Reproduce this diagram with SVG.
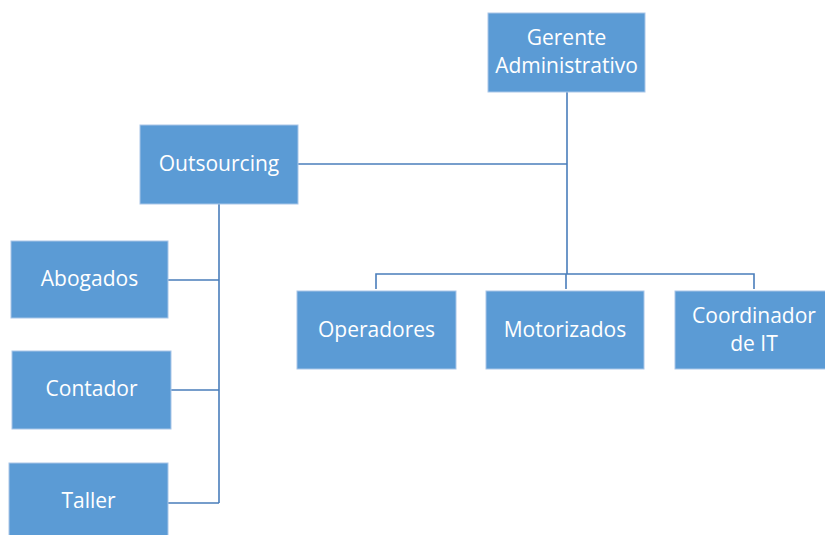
<svg xmlns="http://www.w3.org/2000/svg" width="825" height="535" viewBox="0 0 825 535">
<style>
.box{fill:#5b9bd5;stroke:#a9c6e8;stroke-width:1}
.lbl{fill:#ffffff;font-family:"Open Sans","Liberation Sans",sans-serif;font-size:21px;text-anchor:middle}
.con{fill:none;stroke:#4a7ebb;stroke-width:1.6}
</style>
<rect width="825" height="535" fill="#ffffff"/>
<g id="connectors">
<path class="con" d="M567 92 V274 M376 289 V274 H754 V289 M566 274 V289"/>
<path class="con" d="M298 164 H567"/>
<path class="con" d="M219 204 V503 M168 280 H219 M171 390 H219 M168 503 H219"/>
</g>
<g id="gerente"><rect class="box" x="488" y="13" width="157" height="79"/><text class="lbl" x="566.5" y="45">Gerente</text><text class="lbl" x="566.5" y="73">Administrativo</text></g>
<g id="outsourcing"><rect class="box" x="140" y="125" width="158" height="79"/><text class="lbl" x="219" y="171">Outsourcing</text></g>
<g id="abogados"><rect class="box" x="11" y="241" width="157" height="77"/><text class="lbl" x="89.5" y="286">Abogados</text></g>
<g id="contador"><rect class="box" x="12" y="351" width="159" height="78"/><text class="lbl" x="91.5" y="396">Contador</text></g>
<g id="taller"><rect class="box" x="9" y="463" width="159" height="74"/><text class="lbl" x="88.5" y="508">Taller</text></g>
<g id="operadores"><rect class="box" x="297" y="291" width="159" height="78"/><text class="lbl" x="376.5" y="337">Operadores</text></g>
<g id="motorizados"><rect class="box" x="486" y="291" width="158" height="78"/><text class="lbl" x="565" y="337">Motorizados</text></g>
<g id="coordinador"><rect class="box" x="675" y="291" width="158" height="78"/><text class="lbl" x="754" y="323">Coordinador</text><text class="lbl" x="754" y="351">de IT</text></g>
</svg>
